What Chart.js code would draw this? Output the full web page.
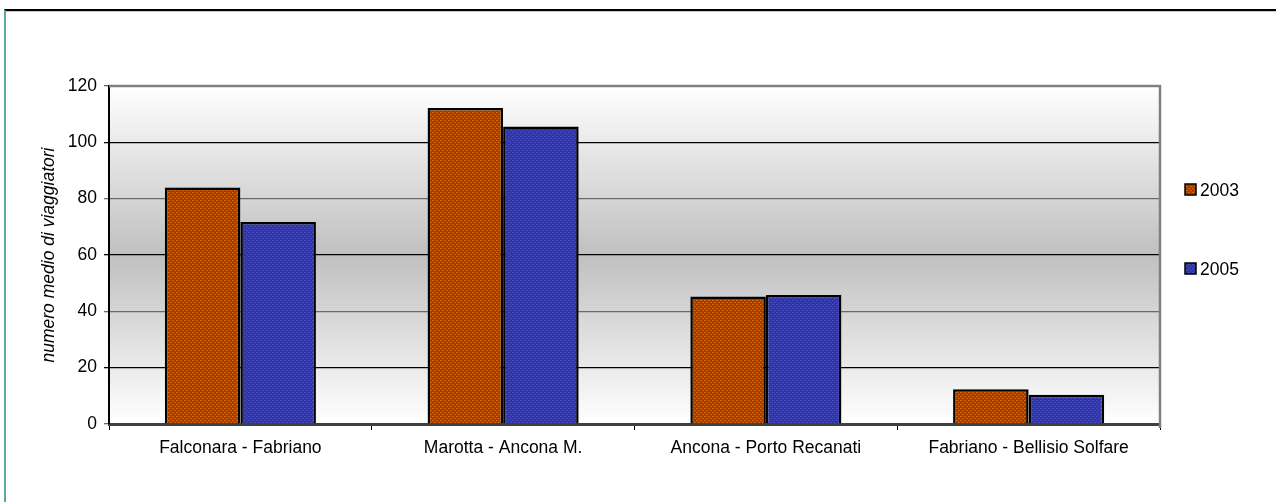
<!DOCTYPE html>
<html>
<head>
<meta charset="utf-8">
<script src="https://cdn.jsdelivr.net/npm/chart.js@4/dist/chart.umd.min.js"></script>
<style>
  html, body { margin: 0; padding: 0; background: #fff; width: 1276px; height: 502px; overflow: hidden; }
  #frame { position: absolute; left: 4px; top: 9px; width: 1280px; height: 500px;
           border-top: 2px solid #000; border-left: 2px solid #5aa9a9; }
  #frame2 { position: absolute; left: 6px; top: 11px; width: 1280px; height: 1px; background: #a8d6d6; }
  #c { position: absolute; left: 0; top: 0; }
</style>
</head>
<body>
<div id="frame"></div>
<div id="frame2"></div>
<canvas id="c" width="1276" height="502"></canvas>
<script>
const categories = ['Falconara - Fabriano', 'Marotta - Ancona M.', 'Ancona - Porto Recanati', 'Fabriano - Bellisio Solfare'];
const seriesNames = ['2003', '2005'];
const values2003 = [84, 112.2, 45.3, 12.3];
const values2005 = [71.7, 105.6, 45.8, 10.4];
const yTicks = [0, 20, 40, 60, 80, 100, 120];
const yTitle = 'numero medio di viaggiatori';

function makePattern(base, dot, dot2) {
  const p = document.createElement('canvas');
  p.width = 4; p.height = 4;
  const g = p.getContext('2d');
  g.fillStyle = base; g.fillRect(0, 0, 4, 4);
  g.fillStyle = dot; g.fillRect(0, 0, 1, 1); g.fillRect(2, 2, 1, 1);
  g.fillStyle = dot2; g.fillRect(1, 0, 1, 1); g.fillRect(3, 2, 1, 1);
  return document.getElementById('c').getContext('2d').createPattern(p, 'repeat');
}
const orangeFill = makePattern('#a43c00', '#e0720f', '#c05a08');
const blueFill = makePattern('#3034a4', '#4a52c4', '#3a40b4');

const FONT = '"Liberation Sans", Arial, sans-serif';

const bgPlugin = {
  id: 'bg',
  beforeDraw(chart) {
    const { ctx, chartArea: a } = chart;
    const g = ctx.createLinearGradient(0, a.top, 0, a.bottom);
    g.addColorStop(0, '#ffffff');
    g.addColorStop(0.5, '#c0c0c0');
    g.addColorStop(1, '#ffffff');
    ctx.save();
    ctx.fillStyle = g;
    ctx.fillRect(a.left, a.top, a.right - a.left, a.bottom - a.top);
    ctx.restore();
  },
  afterDraw(chart) {
    const { ctx, chartArea: a } = chart;
    ctx.save();
    ctx.strokeStyle = '#808080';
    ctx.lineWidth = 2.5;
    ctx.beginPath();
    ctx.moveTo(a.left, a.top);
    ctx.lineTo(a.right, a.top);
    ctx.lineTo(a.right, a.bottom + 4);
    ctx.stroke();
    // custom legend
    const fills = [orangeFill, blueFill];
    const ys = [190, 269];
    ctx.font = '17.5px ' + FONT;
    ctx.textBaseline = 'middle';
    ctx.textAlign = 'left';
    chart.data.datasets.forEach((ds, i) => {
      const y = ys[i];
      ctx.fillStyle = fills[i];
      ctx.fillRect(1185, y - 6, 11, 11);
      ctx.strokeStyle = '#000';
      ctx.lineWidth = 1.5;
      ctx.strokeRect(1185, y - 6, 11, 11);
      ctx.fillStyle = '#000';
      ctx.fillText(ds.label, 1200, y + 1);
    });
    ctx.restore();
  }
};

new Chart(document.getElementById('c'), {
  type: 'bar',
  data: {
    labels: categories,
    datasets: [
      { label: seriesNames[0], data: values2003, backgroundColor: orangeFill, borderColor: '#000', borderWidth: 2.5 },
      { label: seriesNames[1], data: values2005, backgroundColor: blueFill, borderColor: '#000', borderWidth: 2.5 }
    ]
  },
  options: {
    responsive: false,
    animation: false,
    devicePixelRatio: 1,
    layout: { padding: { left: 0, top: 86, right: 116, bottom: 0 } },
    plugins: { legend: { display: false }, tooltip: { enabled: false } },
    datasets: { bar: { barPercentage: 1, categoryPercentage: 0.575 } },
    scales: {
      x: {
        offset: true,
        afterFit(s) { s.height = 78; },
        grid: { drawOnChartArea: false, drawTicks: true, tickLength: 6, color: '#000', offset: true },
        border: { color: '#404040', width: 3 },
        ticks: { color: '#000', font: { family: FONT, size: 17.5 }, padding: 8, maxRotation: 0, autoSkip: false }
      },
      y: {
        min: 0, max: 120,
        afterFit(s) { s.width = 109; },
        afterBuildTicks(s) { s.ticks = yTicks.map(v => ({ value: v })); },
        grid: {
          tickLength: 5,
          color: (c) => {
            const v = c.tick ? c.tick.value : 0;
            return (v === 20 || v === 60 || v === 100) ? '#000' : '#6a6a6a';
          },
          lineWidth: 1.3
        },
        border: { color: '#000', width: 2 },
        ticks: { color: '#000', font: { family: FONT, size: 17.5 }, padding: 7 },
        title: { display: true, text: yTitle, color: '#000', font: { family: FONT, size: 17.5, style: 'italic' }, padding: { top: 39, bottom: 0 } }
      }
    }
  },
  plugins: [bgPlugin]
});
</script>
</body>
</html>
